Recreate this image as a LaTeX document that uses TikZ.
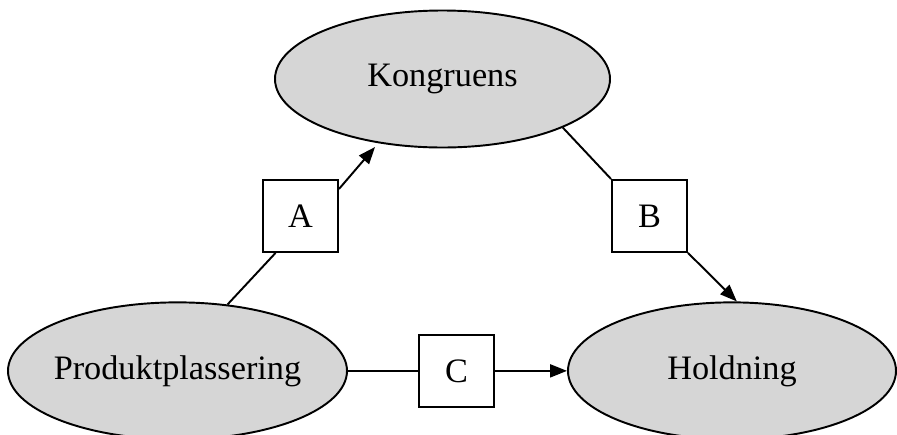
\documentclass[tikz,border=0pt]{standalone}
\usepackage{fontspec}
\setmainfont{Liberation Serif}
\usepackage{xcolor}
\usepackage{tikz}
\usetikzlibrary{shapes.geometric, arrows.meta, positioning}
\definecolor{ovalgray}{RGB}{214,214,214}

\begin{document}
\begin{tikzpicture}[line width=1.1pt, arrow/.style={-{Triangle[length=3.4mm, width=2.6mm]}, line width=1.1pt}]
\tikzstyle{oval} = [ellipse, draw, fill=ovalgray, minimum height=2.74cm, inner xsep=-2mm, inner ysep=0pt, font=\fontsize{19.5}{23}\selectfont]
\tikzstyle{box} = [rectangle, draw, fill=white, minimum width=1.5cm, minimum height=1.44cm, inner sep=0pt, font=\fontsize{19.5}{23}\selectfont]
\useasboundingbox (0,0) rectangle (17.94,-8.68);
\node[oval, minimum width=6.7cm] (kong) at (8.85,-1.58) {Kongruens};
\node[box, below=0.61cm of kong, xshift=-2.84cm] (a) {A};
\node[box, below=0.61cm of kong, xshift=4.14cm] (b) {B};
\node[oval, minimum width=6.78cm, below=0.97cm of a, xshift=-2.46cm] (prod) {Produktplassering};
\node[oval, minimum width=6.56cm, below=0.97cm of b, xshift=1.65cm] (hold) {Holdning};
\node[box, right=1.4cm of prod] (c) {C};
\draw (prod.53) -- (a.236);
\draw[arrow, shorten >=1mm] (a.35) -- (kong.225);
\draw (kong.338) -- (b.north west);
\draw[arrow] (b.south east) -- (hold.86);
\draw (prod.east) -- (c.west);
\draw[arrow] (c.east) -- (hold.west);
\end{tikzpicture}
\end{document}
